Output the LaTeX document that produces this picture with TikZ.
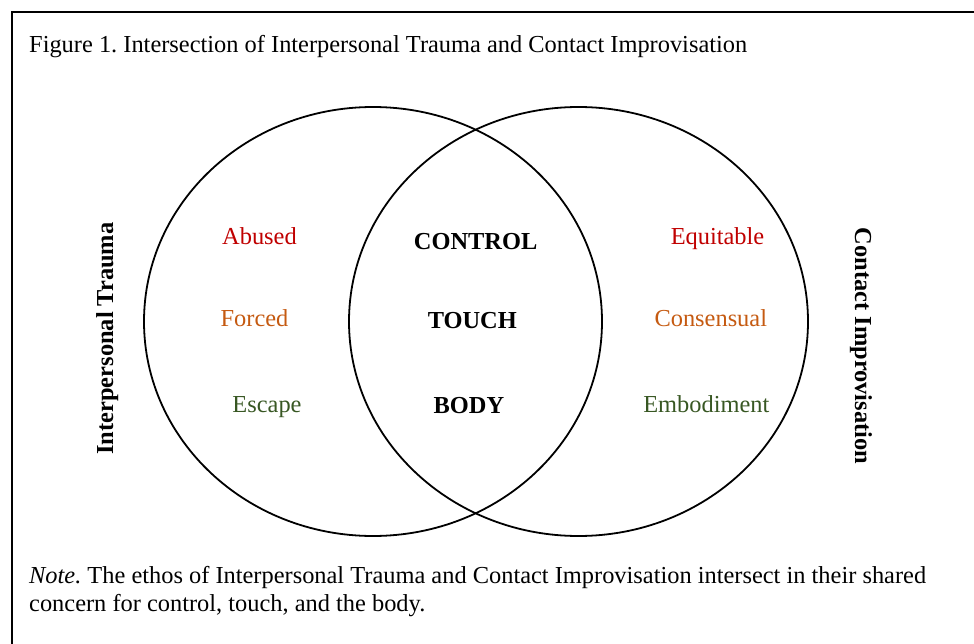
\documentclass[tikz,border=0pt]{standalone}
\usepackage{fontspec}
\setmainfont{Liberation Serif}
\frenchspacing
\definecolor{cred}{HTML}{C00000}
\definecolor{corange}{HTML}{C55A11}
\definecolor{cgreen}{HTML}{385723}
\begin{document}
\begin{tikzpicture}[x=1pt,y=-1pt,
  txt/.style={inner sep=0pt,font=\fontsize{24.4}{28}\selectfont\frenchspacing},
  lbl/.style={txt,anchor=base},
  bold/.style={lbl,font=\fontsize{24.4}{28}\selectfont\bfseries},
  circ/.style={draw=black,line width=1.8pt}]
\useasboundingbox (0,0) rectangle (974,644);
\clip (0,0) rectangle (974,644);
\draw[line width=2pt] (12,12) rectangle (990,660);
\node[txt,anchor=base west] (title) at (29,53) {Figure 1. Intersection of Interpersonal Trauma and Contact Improvisation};
\draw[circ] (373,321.5) ellipse [x radius=229, y radius=214.5];
\draw[circ] (578.5,321.5) ellipse [x radius=229.5, y radius=214.5];
\node[lbl,text=cred] (abused) at (259.5,245) {Abused};
\node[lbl,text=corange] (forced) at (254.5,326) {Forced};
\node[lbl,text=cgreen] (escape) at (267,412) {Escape};
\node[bold] (control) at (475.6,249.5) {CONTROL};
\node[bold] (touch) at (472.3,328) {TOUCH};
\node[bold] (body) at (468.9,413) {BODY};
\node[lbl,text=cred] (equitable) at (717.5,245) {Equitable};
\node[lbl,text=corange] (consensual) at (710.8,326) {Consensual};
\node[lbl,text=cgreen] (embodiment) at (706.3,412.5) {Embodiment};
\node[bold,rotate=90] (it) at (113,338.5) {Interpersonal Trauma};
\node[bold,rotate=-90] (ci) at (855,346) {Contact Improvisation};
\node[txt,anchor=base west] (note1) at (29,583) {\textit{Note.} The ethos of Interpersonal Trauma and Contact Improvisation intersect in their shared};
\node[txt,anchor=base west] (note2) at (29,611) {concern for control, touch, and the body.};
\end{tikzpicture}
\end{document}
